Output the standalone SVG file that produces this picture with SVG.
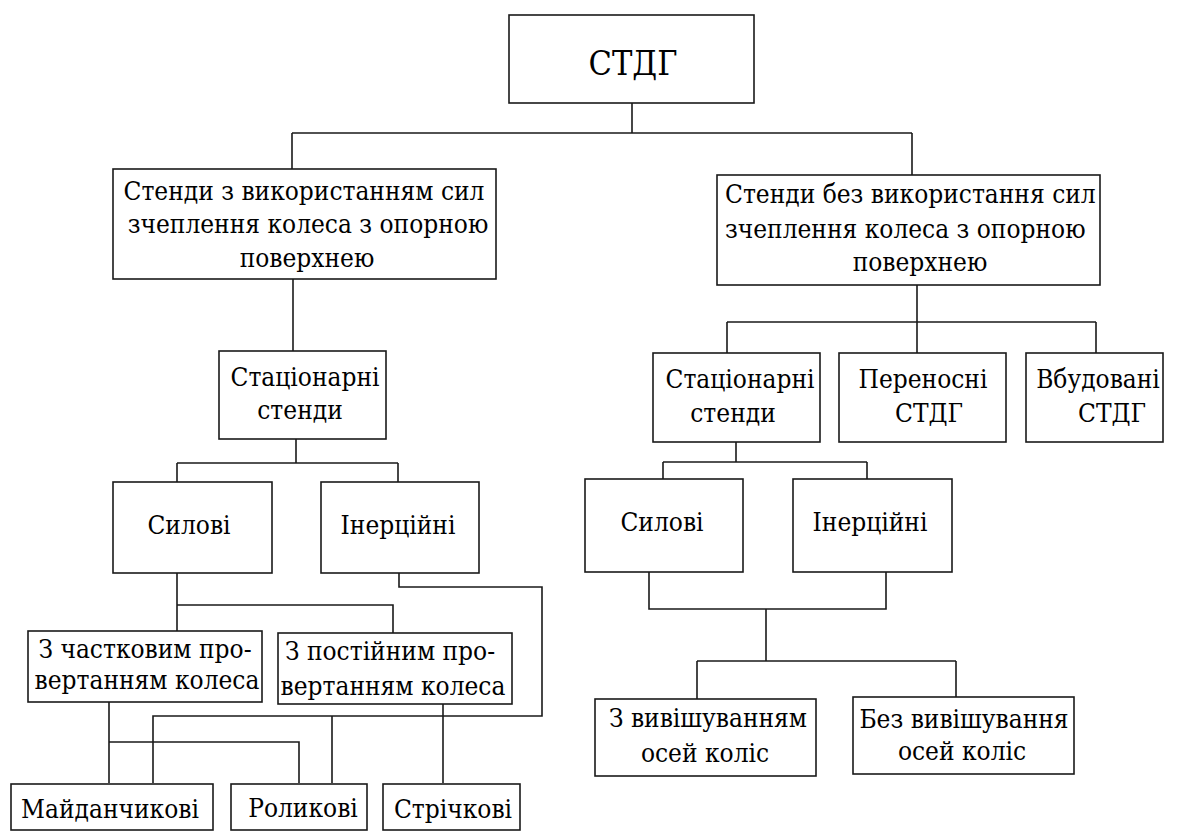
<svg xmlns="http://www.w3.org/2000/svg" width="1191" height="835" viewBox="0 0 1191 835">
<style>
rect{fill:#fff;stroke:#1a1a1a;stroke-width:1.6}
text{font-family:"DejaVu Serif Condensed","DejaVu Serif",serif;font-stretch:condensed;font-size:26px;fill:#000;text-anchor:middle}
.c path{fill:none;stroke:#1a1a1a;stroke-width:1.6}
</style>
<rect x="0" y="0" width="1191" height="835" style="stroke:none"/>
<g class="c" id="connectors">
<path d="M632 103V133M292 133H912M292 133V169M912 133V175"/>
<path d="M293 279V351"/>
<path d="M917 285V322M727 322H1096M727 322V353M917 322V353M1096 322V353"/>
<path d="M296 439V463M177 463H398M177 463V482M398 463V482"/>
<path d="M177 573V632M177 605H393V633"/>
<path d="M399 573V587H542V716H153V783M332 716V783"/>
<path d="M109 702V783M109 742H299V783"/>
<path d="M443 704V783"/>
<path d="M736 442V462M663 462H867M663 462V479M867 462V479"/>
<path d="M649 572V609H886V572M766 609V661M697 661H956M697 661V699M956 661V697"/>
</g>
<g id="nodes">
<g id="n-root"><rect x="509" y="15" width="245" height="88"/><text x="633" y="75" style="font-size:34px">СТДГ</text></g>
<g id="n-left"><rect x="113" y="169" width="383" height="110"/>
<text x="304" y="200">Стенди з використанням сил</text><text x="308" y="233">зчеплення колеса з опорною</text><text x="307" y="267">поверхнею</text></g>
<g id="n-right"><rect x="717" y="175" width="383" height="110"/>
<text x="725" y="203" style="text-anchor:start">Стенди без використання сил</text><text x="725" y="238" style="text-anchor:start">зчеплення колеса з опорною</text><text x="920" y="271">поверхнею</text></g>
<g id="n-lstat"><rect x="219" y="351" width="167" height="88"/><text x="305" y="386">Стаціонарні</text><text x="300" y="419">стенди</text></g>
<g id="n-rstat"><rect x="653" y="353" width="167" height="89"/><text x="740" y="388">Стаціонарні</text><text x="733" y="422">стенди</text></g>
<g id="n-portable"><rect x="839" y="353" width="167" height="89"/><text x="923" y="388">Переносні</text><text x="929" y="422">СТДГ</text></g>
<g id="n-builtin"><rect x="1026" y="353" width="137" height="89"/><text x="1098" y="388">Вбудовані</text><text x="1112" y="422">СТДГ</text></g>
<g id="n-lsil"><rect x="113" y="482" width="159" height="91"/><text x="189" y="534">Силові</text></g>
<g id="n-liner"><rect x="321" y="482" width="158" height="91"/><text x="398" y="534">Інерційні</text></g>
<g id="n-rsil"><rect x="585" y="479" width="158" height="93"/><text x="662" y="531">Силові</text></g>
<g id="n-riner"><rect x="793" y="479" width="159" height="93"/><text x="870" y="531">Інерційні</text></g>
<g id="n-partial"><rect x="28" y="631" width="234" height="71"/><text x="145" y="658">З частковим про-</text><text x="147" y="689">вертанням колеса</text></g>
<g id="n-const"><rect x="278" y="633" width="234" height="71"/><text x="390" y="660">З постійним про-</text><text x="393" y="695">вертанням колеса</text></g>
<g id="n-susp"><rect x="595" y="699" width="221" height="77"/><text x="708" y="727">З вивішуванням</text><text x="705" y="762">осей коліс</text></g>
<g id="n-nosusp"><rect x="853" y="697" width="221" height="77"/><text x="964" y="728">Без вивішування</text><text x="962" y="760">осей коліс</text></g>
<g id="n-plat"><rect x="11" y="784" width="202" height="46"/><text x="110" y="818">Майданчикові</text></g>
<g id="n-roll"><rect x="231" y="784" width="136" height="46"/><text x="303" y="817">Роликові</text></g>
<g id="n-belt"><rect x="383" y="784" width="137" height="46"/><text x="453" y="818">Стрічкові</text></g>
</g>
</svg>
